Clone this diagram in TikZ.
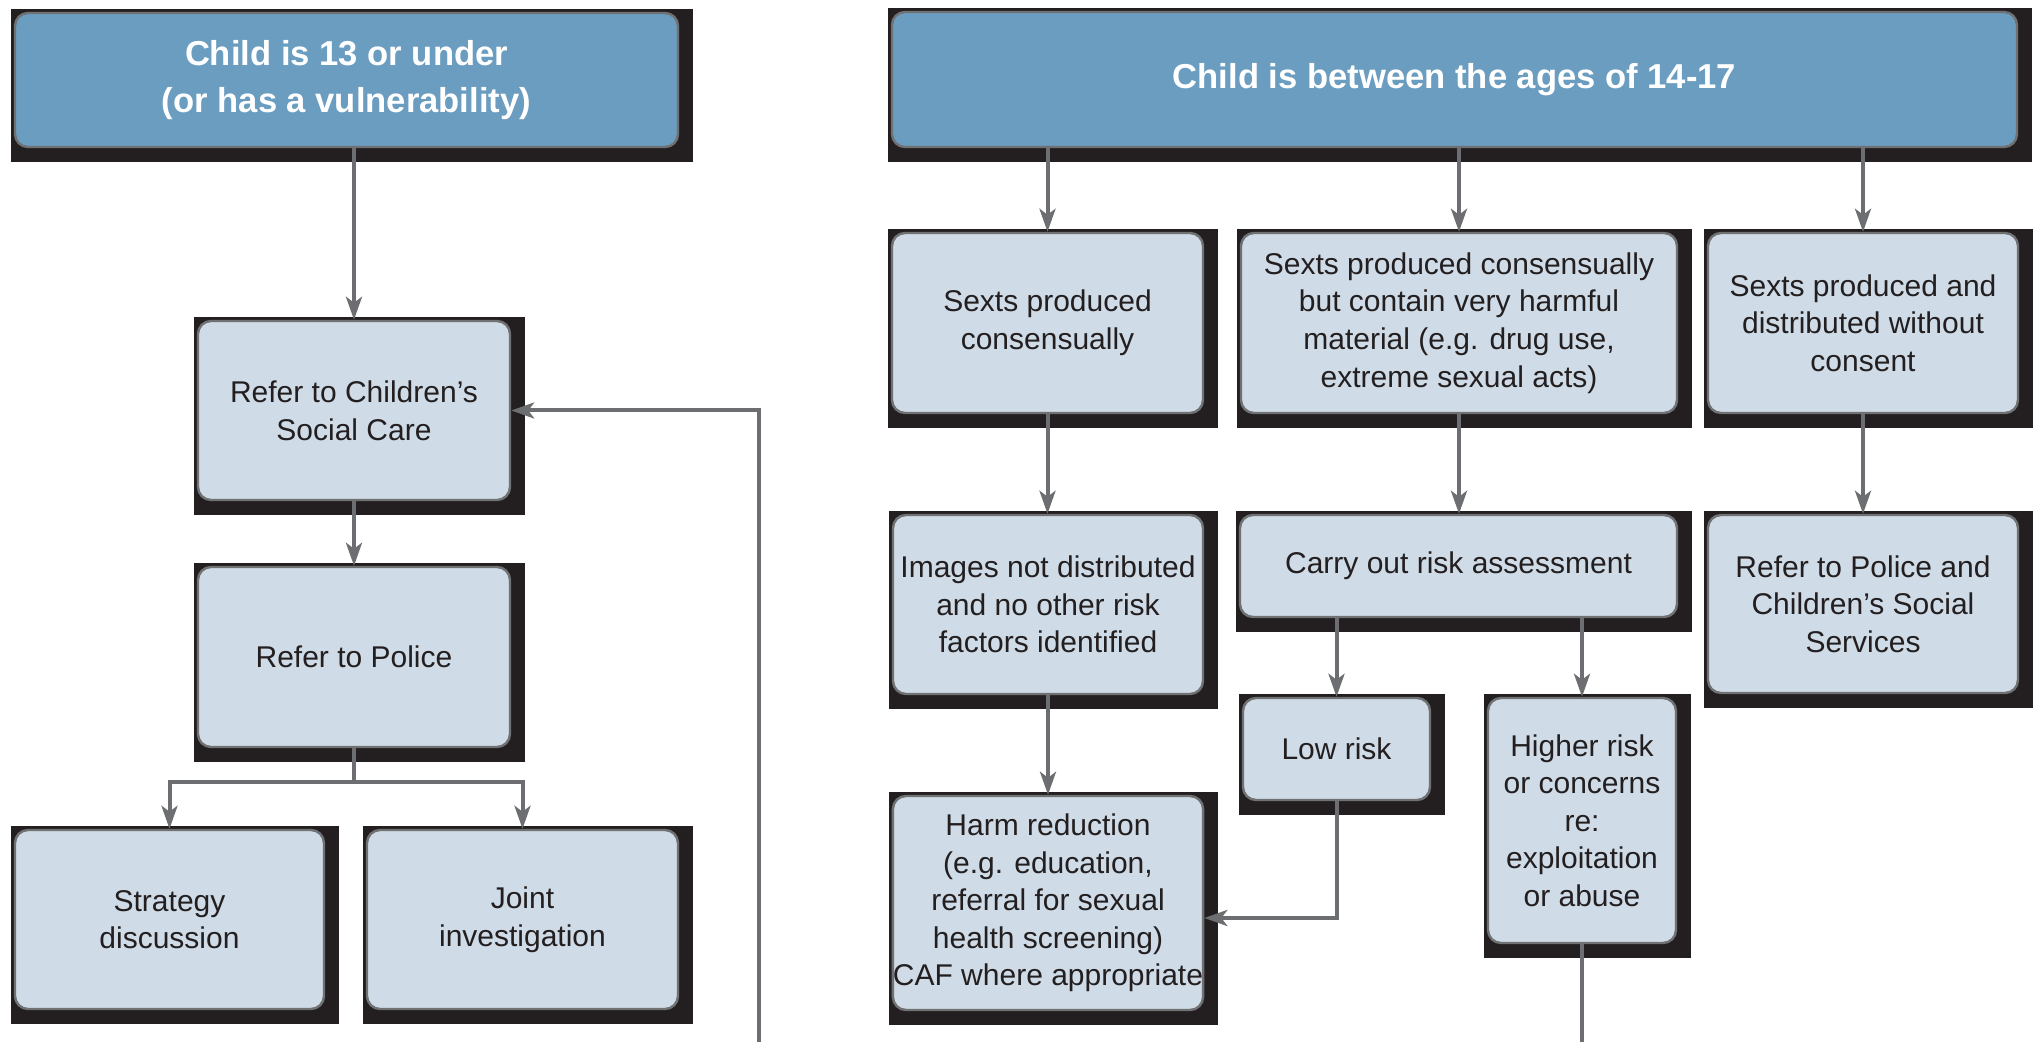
\documentclass[tikz,border=0pt]{standalone}
\usepackage{fontspec}
\setmainfont{Liberation Sans}
\usepackage{xcolor}
\usepackage{tikz}
\usetikzlibrary{arrows.meta}
\definecolor{inkdark}{HTML}{231F20}
\definecolor{boxfill}{HTML}{CFDBE6}
\definecolor{headfill}{HTML}{6B9DC0}
\definecolor{edgegray}{HTML}{707173}
\definecolor{linegray}{HTML}{6D6E71}
\tikzset{
    card/.style={draw=edgegray, line width=1.2pt, fill=boxfill, rounded corners=6.5pt, align=center, inner sep=0pt, text=inkdark, font=\fontsize{15}{18.8}\selectfont},
    head/.style={card, fill=headfill, text=white, font=\bfseries\fontsize{17.3}{23.5}\selectfont},
    flow/.style={draw=linegray, line width=2pt, -{Stealth[length=11.5pt,width=8pt,inset=3pt]}},
    flowline/.style={draw=linegray, line width=2pt}
}
\tikzset{
    pics/panel/.style args={#1/#2/#3/#4/#5}{
    code = {
    		\fill[inkdark] (\fpeval{#1-4},\fpeval{#2-4}) rectangle (\fpeval{#1+#3+15},\fpeval{#2+#4+15});
		\node[card, minimum width=\fpeval{#3/2}pt, minimum height=\fpeval{#4/2}pt] (-box) at (\fpeval{#1+#3/2},\fpeval{#2+#4/2}) {#5};
    }}
}
\tikzset{
    pics/banner/.style args={#1/#2/#3/#4/#5}{
    code = {
    		\fill[inkdark] (\fpeval{#1-4},\fpeval{#2-4}) rectangle (\fpeval{#1+#3+15},\fpeval{#2+#4+15});
		\node[head, minimum width=\fpeval{#3/2}pt, minimum height=\fpeval{#4/2}pt] (-box) at (\fpeval{#1+#3/2},\fpeval{#2+#4/2}) {#5};
    }}
}
\begin{document}
\begin{tikzpicture}[x=0.5pt, y=-0.5pt]
		\useasboundingbox (0,0) rectangle (2040,1042);

		%under 14
		\pic (young) {banner=15/13/663/134/{Child is 13 or under\\(or has a vulnerability)}};
		\pic (csc) {panel=198/321/312/179/{Refer to Children’s\\Social Care}};
		\pic (police) {panel=198/567/312/180/{Refer to Police}};
		\pic (strategy) {panel=15/830/309/179/{Strategy\\discussion}};
		\pic (joint) {panel=367/830/311/179/{Joint\\investigation}};
		\coordinate (loop) at (759,1042);

		\draw[flow] (young-box.south -| csc-box.north) -- (csc-box.north);
		\draw[flow] (csc-box) -- (police-box);
		\draw[flowline] (police-box.south) -- ++(0,34) coordinate (split);
		\draw[flow] (split) -| (strategy-box.north);
		\draw[flow] (split) -| (joint-box.north);
		\draw[flow] (loop) |- (csc-box.east);

		%14 to 17
		\pic (older) {banner=892/12/1125/135/{Child is between the ages of 14-17}};
		\pic (consent) {panel=892/233/311/180/{Sexts produced\\consensually}};
		\pic (harmful) {panel=1241/233/436/180/{Sexts produced consensually\\but contain very harmful\\material (e.g. drug use,\\extreme sexual acts)}};
		\pic (noconsent) {panel=1708/233/310/180/{Sexts produced and\\distributed without\\consent}};
		\pic (images) {panel=893/515/310/179/{Images not distributed\\and no other risk\\factors identified}};
		\pic (assess) {panel=1240/515/437/102/{Carry out risk assessment}};
		\pic (refer) {panel=1708/515/310/178/{Refer to Police and\\Children’s Social\\Services}};
		\pic (harm) {panel=893/796/310/214/{Harm reduction\\(e.g. education,\\referral for sexual\\health screening)\\CAF where appropriate}};
		\pic (low) {panel=1243/698/187/102/{Low risk}};
		\pic (high) {panel=1488/698/188/245/{Higher risk\\or concerns\\re:\\exploitation\\or abuse}};
		\coordinate (onward) at (1582,1042);

		\draw[flow] (older-box.south -| consent-box.north) -- (consent-box.north);
		\draw[flow] (older-box.south -| harmful-box.north) -- (harmful-box.north);
		\draw[flow] (older-box.south -| noconsent-box.north) -- (noconsent-box.north);
		\draw[flow] (consent-box.south) -- (consent-box.south |- images-box.north);
		\draw[flow] (harmful-box.south) -- (harmful-box.south |- assess-box.north);
		\draw[flow] (noconsent-box.south) -- (noconsent-box.south |- refer-box.north);
		\draw[flow] (images-box.south) -- (images-box.south |- harm-box.north);
		\draw[flow] (assess-box.south -| low-box.north) -- (low-box.north);
		\draw[flow] (assess-box.south -| high-box.north) -- (high-box.north);
		\draw[flow] (low-box.south) |- ([yshift=-7.5pt]harm-box.east);
		\draw[flowline] (high-box.south) -- (high-box.south |- onward);

	\end{tikzpicture}
\end{document}
